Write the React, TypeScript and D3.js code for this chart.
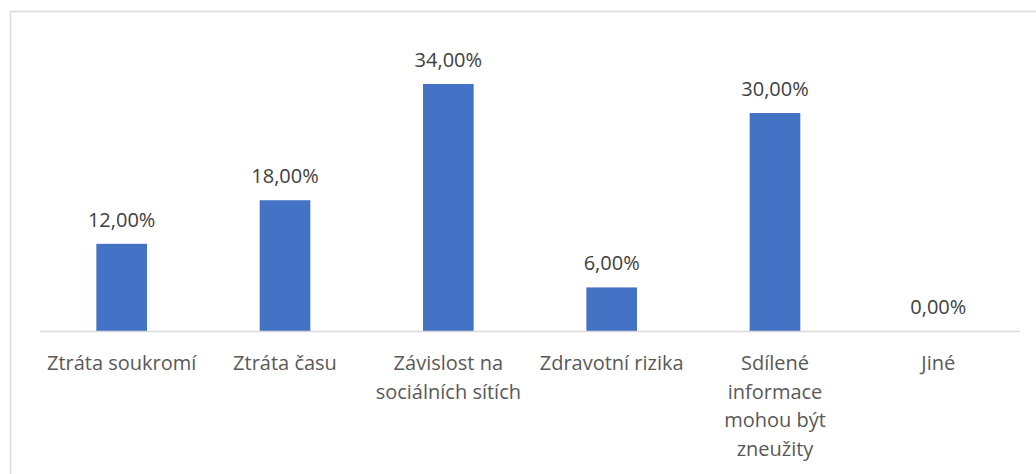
import { useEffect, useRef } from 'react';
import * as d3 from 'd3';

// category labels, already split in lines the way the original wraps them
const categories = [
  'Ztráta soukromí',
  'Ztráta času',
  'Závislost na sociálních sítích',
  'Zdravotní rizika',
  'Sdílené informace mohou být zneužity',
  'Jiné',
];
const categoryLines = [
  ['Ztráta soukromí'],
  ['Ztráta času'],
  ['Závislost na', 'sociálních sítích'],
  ['Zdravotní rizika'],
  ['Sdílené', 'informace', 'mohou být', 'zneužity'],
  ['Jiné'],
];
const values = [12, 18, 34, 6, 30, 0];

const width = 1036;
const height = 474;
const font = "'Open Sans', 'Noto Sans', sans-serif";

const App = () => {
  const svgRef = useRef<SVGSVGElement>(null);

  useEffect(() => {
    if (!svgRef.current) return;
    const svg = d3.select(svgRef.current);
    svg.selectAll('*').remove();

    const x = d3.scaleBand<string>()
      .domain(categories)
      .range([40, 1020])
      .paddingInner(0.69)
      .paddingOuter(0.345);

    const y = d3.scaleLinear()
      .domain([0, 40])
      .range([331, 40.4]);

    // chart border (only top/left visible in the crop)
    svg.append('rect')
      .attr('x', 10.5)
      .attr('y', 11.5)
      .attr('width', 1100)
      .attr('height', 600)
      .attr('fill', '#fff')
      .attr('stroke', '#D9D9D9')
      .attr('stroke-width', 1.5);

    svg.selectAll('.bar')
      .data(values)
      .enter()
      .append('rect')
      .attr('class', 'bar')
      .attr('x', (d, i) => x(categories[i])!)
      .attr('y', d => y(d))
      .attr('width', x.bandwidth())
      .attr('height', d => y(0) - y(d))
      .attr('fill', '#4472C4');

    // baseline
    svg.append('line')
      .attr('x1', x.range()[0])
      .attr('x2', x.range()[1])
      .attr('y1', y(0) + 0.5)
      .attr('y2', y(0) + 0.5)
      .attr('stroke', '#D9D9D9')
      .attr('stroke-width', 1.5);

    // value labels
    svg.selectAll('.val')
      .data(values)
      .enter()
      .append('text')
      .attr('class', 'val')
      .attr('x', (d, i) => x(categories[i])! + x.bandwidth() / 2)
      .attr('y', d => y(d) - 17)
      .attr('text-anchor', 'middle')
      .style('font-family', font)
      .style('font-size', '20px')
      .attr('fill', '#404040')
      .text(d => d.toFixed(2).replace('.', ',') + '%');

    // category labels
    const cat = svg.selectAll('.cat')
      .data(categoryLines)
      .enter()
      .append('text')
      .attr('class', 'cat')
      .attr('text-anchor', 'middle')
      .style('font-family', font)
      .style('font-size', '20px')
      .attr('fill', '#595959');

    cat.selectAll('tspan')
      .data((d, i) => d.map(line => ({ line, i })))
      .enter()
      .append('tspan')
      .attr('x', d => x(categories[d.i])! + x.bandwidth() / 2)
      .attr('y', (d, j) => 370 + j * 28.5)
      .text(d => d.line);
  }, []);

  return (
    <svg
      ref={svgRef}
      width={width}
      height={height}
      style={{ position: 'absolute', left: 0, top: 0, display: 'block', background: '#fff' }}
    />
  );
};

export default App;
